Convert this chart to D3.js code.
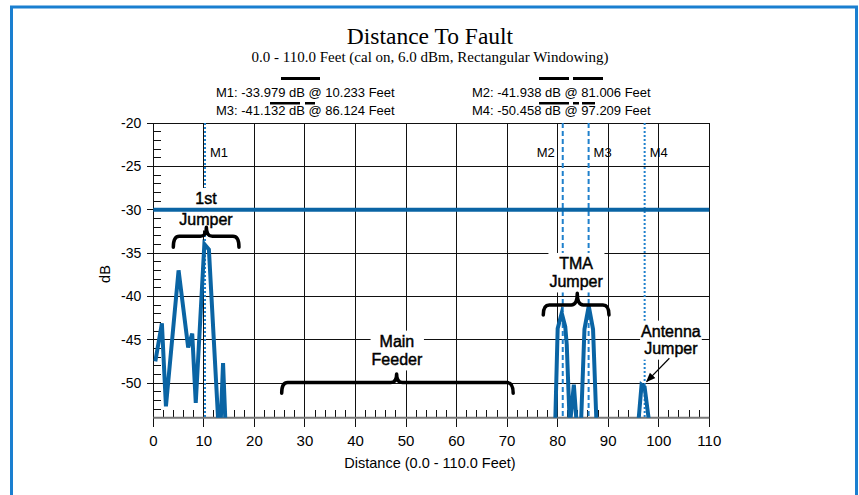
<!DOCTYPE html>
<html>
<head>
<meta charset="utf-8">
<script src="https://cdn.jsdelivr.net/npm/d3@7"></script>
<style>
  html, body { margin: 0; padding: 0; background: #fff; }
  svg { display: block; }
</style>
</head>
<body>
<div id="chart"></div>
<script>
// DTF trace: distance (ft) and return loss (dB).
// -55 means the trace is below the display floor (-54 dB)
const distance = [0.4, 1.7, 2.5, 5.0, 6.9, 7.7, 8.4, 10.1, 11.0, 12.9, 13.3, 13.8, 14.3,
  79.5, 80.0, 80.8, 81.5, 81.8, 82.4, 83.2, 83.8, 84.6, 85.3, 86.15, 87.0, 87.7,
  95.9, 96.6, 97.2, 98.2];
const returnLoss = [-47.5, -43.1, -52.7, -37.0, -45.9, -44.3, -52.3, -33.98, -34.6, -55, -55, -47.7, -55,
  -55, -43.7, -41.94, -43.5, -45.6, -55, -50.2, -55, -55, -43.8, -41.13, -43.8, -55,
  -55, -50.2, -50.46, -55];

const markerNames = ["M1", "M2", "M3", "M4"];
const markerDist = [10.233, 81.006, 86.124, 97.209];
const markerDb = [-33.979, -41.938, -41.132, -50.458];

const limitDb = -30;
const xTicks = d3.range(0, 111, 10);
const yTicks = d3.range(-20, -51, -5);

// callouts, in data units
const notes = [
  { lines: ["1st", "Jumper"], x: 10.43, y: -29.34, gap: 21 },
  { lines: ["TMA", "Jumper"], x: 83.65, y: -36.84, gap: 18 },
  { lines: ["Main", "Feeder"], x: 48.2, y: -45.8, gap: 18.3 },
  { lines: ["Antenna", "Jumper"], x: 102.4, y: -44.65, gap: 17.5 }
];
const braces = [
  { x0: 3.96, x1: 16.95, xm: 10.5, yEnd: -34.34, yTop: -33.08, yTip: -32.03 },
  { x0: 77.15, x1: 90.15, xm: 83.88, yEnd: -42.15, yTop: -40.99, yTip: -39.64 },
  { x0: 25.4, x1: 71.2, xm: 48.14, yEnd: -51.18, yTop: -49.95, yTip: -48.95 }
];

const width = 859, height = 495;
const sans = "'Liberation Sans', Arial, Helvetica, sans-serif";
const serif = "'Liberation Serif', 'Times New Roman', serif";
const traceBlue = "#0a64a4";
const markBlue = "#1f80cc";

const x = d3.scaleLinear().domain([0, 110]).range([153.3, 709.3]);
const y = d3.scaleLinear().domain([-54, -20]).range([417.7, 123]);

const svg = d3.select("#chart").append("svg")
  .attr("width", width).attr("height", height)
  .attr("viewBox", [0, 0, width, height]);

// frame
svg.append("path")
  .attr("d", `M11.5,${height} V7 H856.5 V${height}`)
  .attr("fill", "none").attr("stroke", "#1a7fd0").attr("stroke-width", 3);

// titles
svg.append("text").attr("x", 430).attr("y", 44).attr("text-anchor", "middle")
  .attr("font-family", serif).attr("font-size", 23.5).text("Distance To Fault");
svg.append("text").attr("x", 430).attr("y", 62).attr("text-anchor", "middle")
  .attr("font-family", serif).attr("font-size", 15)
  .text("0.0 - 110.0 Feet (cal on, 6.0 dBm, Rectangular Windowing)");

// marker readouts
const fmt = v => d3.format(".3f")(v).replace("\u2212", "-");
const readPos = [[216, 97], [472, 97], [216, 115], [472, 115]];
markerNames.forEach((m, i) => {
  svg.append("text").attr("x", readPos[i][0]).attr("y", readPos[i][1])
    .attr("font-family", sans).attr("font-size", 13)
    .text(`${m}: ${fmt(markerDb[i])} dB @ ${fmt(markerDist[i])} Feet`);
});
// black bars over the readouts
const bars = [[281, 77, 39, 3], [539, 77, 30, 3], [573, 77, 30, 3],
  [270, 102, 30, 2.5], [305, 102, 10, 2.5], [539, 102, 30, 2.5], [573, 102, 6, 2.5], [582, 102, 13, 2.5]];
svg.append("g").selectAll("rect").data(bars).join("rect")
  .attr("x", d => d[0]).attr("y", d => d[1]).attr("width", d => d[2]).attr("height", d => d[3])
  .attr("fill", "#000");

// grid
const grid = svg.append("g").attr("stroke", "#111").attr("stroke-width", 1).attr("shape-rendering", "crispEdges");
grid.selectAll(".vx").data(xTicks).join("line")
  .attr("x1", d => x(d)).attr("x2", d => x(d))
  .attr("y1", y(-20)).attr("y2", y(-54) + 9);
grid.selectAll(".hy").data(yTicks).join("line")
  .attr("x1", x(0) - 6).attr("x2", x(110))
  .attr("y1", d => y(d)).attr("y2", d => y(d));
// minor ticks
grid.selectAll(".mx").data(d3.range(2, 110, 2).filter(d => d % 10)).join("line")
  .attr("x1", d => x(d)).attr("x2", d => x(d))
  .attr("y1", y(-54)).attr("y2", y(-54) - 8);
grid.selectAll(".my").data(d3.range(-21, -54, -1).filter(d => d % 5)).join("line")
  .attr("x1", x(0)).attr("x2", x(0) + 8)
  .attr("y1", d => y(d)).attr("y2", d => y(d));
// axis lines
svg.append("line").attr("x1", x(0)).attr("x2", x(110)).attr("y1", y(-54)).attr("y2", y(-54))
  .attr("stroke", "#777").attr("stroke-width", 2);

// tick labels
svg.append("g").selectAll("text").data(yTicks).join("text")
  .attr("x", x(0) - 12).attr("y", d => y(d)).attr("dy", "0.35em")
  .attr("text-anchor", "end").attr("font-family", sans).attr("font-size", 14)
  .text(d => d);
svg.append("g").selectAll("text").data(xTicks).join("text")
  .attr("x", d => x(d)).attr("y", y(-54) + 28)
  .attr("text-anchor", "middle").attr("font-family", sans).attr("font-size", 15)
  .text(d => d);
svg.append("text").attr("x", 430).attr("y", 468).attr("text-anchor", "middle")
  .attr("font-family", sans).attr("font-size", 14.5).text("Distance (0.0 - 110.0 Feet)");
svg.append("text").attr("transform", `translate(110,274) rotate(-90)`)
  .attr("text-anchor", "middle").attr("font-family", sans).attr("font-size", 14.5).text("dB");

// marker lines
const dashes = ["2,2", "5,3", "5,3", "2,2"];
markerNames.forEach((m, i) => {
  svg.append("line").attr("x1", x(markerDist[i])).attr("x2", x(markerDist[i]))
    .attr("y1", y(-20)).attr("y2", y(-54))
    .attr("stroke", markBlue).attr("stroke-width", 2).attr("stroke-dasharray", dashes[i]);
  const left = m === "M2";
  svg.append("text").attr("x", x(markerDist[i]) + (left ? -8 : 5)).attr("y", 157)
    .attr("text-anchor", left ? "end" : "start")
    .attr("font-family", sans).attr("font-size", 13).text(m);
});

// white boxes behind callouts, filled in after the text is measured
const boxes = svg.append("g");

// limit line
svg.append("line").attr("x1", x(0)).attr("x2", x(110))
  .attr("y1", y(limitDb)).attr("y2", y(limitDb))
  .attr("stroke", traceBlue).attr("stroke-width", 4);

// trace
svg.append("clipPath").attr("id", "plot").append("rect")
  .attr("x", x(0)).attr("y", y(-20)).attr("width", x(110) - x(0)).attr("height", y(-54) - y(-20));
const pts = distance.map((d, i) => [d, returnLoss[i]]);
svg.append("path").datum(pts)
  .attr("clip-path", "url(#plot)")
  .attr("fill", "none").attr("stroke", traceBlue).attr("stroke-width", 4)
  .attr("stroke-linejoin", "miter")
  .attr("d", d3.line().x(d => x(d[0])).y(d => y(d[1])));

// callouts
notes.forEach(n => {
  const t = svg.append("text").attr("text-anchor", "middle")
    .attr("font-family", sans).attr("font-size", 16)
    .attr("stroke", "#000").attr("stroke-width", 0.45);
  n.lines.forEach((l, i) => {
    t.append("tspan").attr("x", x(n.x)).attr("y", y(n.y) + i * n.gap).text(l);
  });
  const b = t.node().getBBox();
  boxes.append("rect").attr("x", b.x - 1).attr("y", b.y - 2).attr("width", b.width + 2).attr("height", b.height + 4.5)
    .attr("fill", "#fff");
});

svg.append("g").attr("fill", "none").attr("stroke", "#000").attr("stroke-width", 3.5)
  .attr("stroke-linecap", "round").attr("stroke-linejoin", "round")
  .selectAll("path").data(braces).join("path")
  .attr("d", b => {
    const x0 = x(b.x0), x1 = x(b.x1), xm = x(b.xm);
    const ye = y(b.yEnd), yt = y(b.yTop), yp = y(b.yTip);
    const r = 6;
    return `M${x0},${ye} Q${x0},${yt} ${x0 + r},${yt} L${xm - r},${yt} Q${xm},${yt} ${xm},${yp}` +
      ` Q${xm},${yt} ${xm + r},${yt} L${x1 - r},${yt} Q${x1},${yt} ${x1},${ye}`;
  });

// arrow to the antenna jumper peak
svg.append("defs").append("marker").attr("id", "arr")
  .attr("viewBox", "0 0 10 10").attr("refX", 9).attr("refY", 5)
  .attr("markerWidth", 8).attr("markerHeight", 8).attr("orient", "auto-start-reverse")
  .append("path").attr("d", "M0,1 L10,5 L0,9 Z").attr("fill", "#000");
svg.append("line")
  .attr("x1", x(102.1)).attr("y1", y(-47.14)).attr("x2", x(97.6)).attr("y2", y(-49.84))
  .attr("stroke", "#000").attr("stroke-width", 1.2).attr("marker-end", "url(#arr)");
</script>
</body>
</html>
